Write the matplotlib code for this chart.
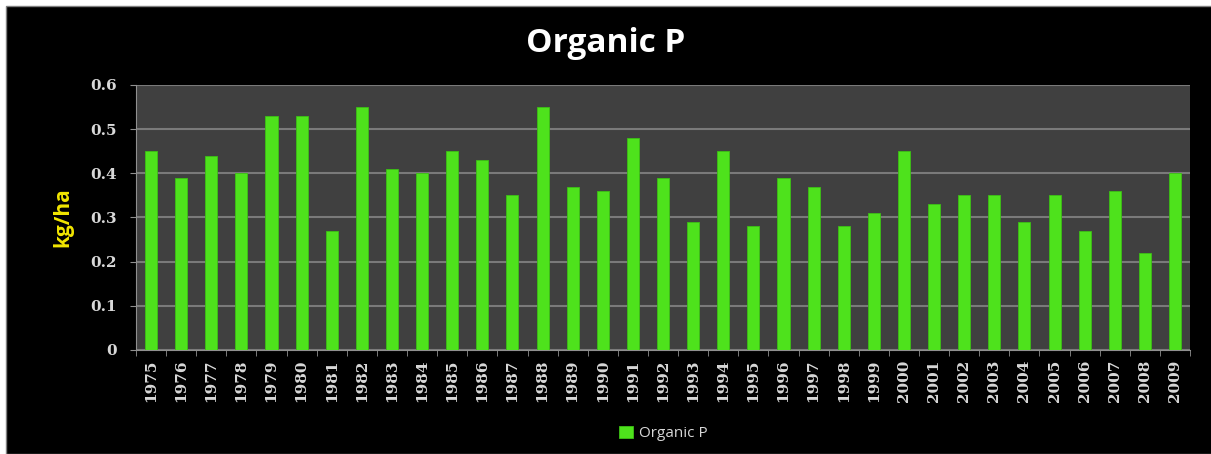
import matplotlib.pyplot as plt
import numpy as np
from matplotlib.patches import Rectangle

years = [str(y) for y in range(1975, 2010)]
organic_p = [0.45, 0.39, 0.44, 0.40, 0.53, 0.53, 0.27, 0.55, 0.41, 0.40,
             0.45, 0.43, 0.35, 0.55, 0.37, 0.36, 0.48, 0.39, 0.29, 0.45,
             0.28, 0.39, 0.37, 0.28, 0.31, 0.45, 0.33, 0.35, 0.35, 0.29,
             0.35, 0.27, 0.36, 0.22, 0.40]
yticks = [0, 0.1, 0.2, 0.3, 0.4, 0.5, 0.6]
ytick_labels = ['0', '0.1', '0.2', '0.3', '0.4', '0.5', '0.6']

fig = plt.figure(figsize=(12.11, 4.54), dpi=100, facecolor='white')
# black chart panel with a thin white margin on the left and top
fig.patches.append(Rectangle((6/1211, 0), 1, 1 - 6/454, transform=fig.transFigure,
                             facecolor='black', edgecolor='#808080', lw=1.0, zorder=-10))

ax = fig.add_axes([0.1123, 0.2291, 0.8704, 0.5837])
ax.set_facecolor('#404040')

x = np.arange(len(years))
ax.bar(x, organic_p, width=0.4, color='#4ee21c', edgecolor='#3cc014', lw=0.6,
       label='Organic P', zorder=3)

ax.set_xlim(-0.5, len(years) - 0.5)
ax.set_ylim(0, 0.6)
ax.set_yticks(yticks)
ax.set_yticklabels(ytick_labels, fontfamily='DejaVu Serif', fontweight='bold',
                   fontsize=11, color='#d8d8d8')
ax.set_xticks(x)
ax.set_xticklabels(years, rotation=90, fontfamily='DejaVu Serif', fontweight='bold',
                   fontsize=11, color='#d8d8d8')
ax.set_xticks(np.arange(len(years) + 1) - 0.5, minor=True)
ax.tick_params(axis='x', which='major', length=0, pad=7)
ax.tick_params(axis='x', which='minor', length=4, color='#909090')
ax.tick_params(axis='y', length=4, color='#909090', pad=10)

ax.grid(axis='y', color='#7a7a7a', lw=1.5, zorder=1)
for side in ['top', 'right']:
    ax.spines[side].set_visible(False)
ax.spines['left'].set_color('#909090')
ax.spines['bottom'].set_color('#909090')

fig.text(0.5, 0.905, 'Organic P', ha='center', va='center', fontsize=24,
         fontweight='bold', color='white', fontfamily='Open Sans')
ax.set_ylabel('kg/ha', fontsize=15, fontweight='bold', color='#f2e600',
              fontfamily='Open Sans', labelpad=12)

leg = ax.legend(loc='center', bbox_to_anchor=(0.5, -0.315), frameon=False,
                handlelength=0.9, handleheight=0.9, handletextpad=0.4,
                prop={'family': 'Open Sans', 'size': 11})
for t in leg.get_texts():
    t.set_color('#d8d8d8')

fig.savefig('out.png', dpi=100, facecolor=fig.get_facecolor())
